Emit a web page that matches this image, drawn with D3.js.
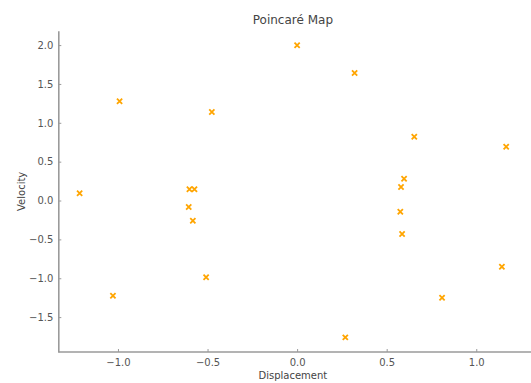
<!DOCTYPE html>
<html>
<head>
<meta charset="utf-8">
<script src="https://cdn.jsdelivr.net/npm/d3@7"></script>
<style>
  html, body { margin: 0; padding: 0; background: #fff; }
  svg { display: block; }
  text { font-family: "DejaVu Sans", sans-serif; }
</style>
</head>
<body>
<svg id="chart" width="531" height="383"></svg>
<script>
const displacement = [-0.991, -0.476, 0.0, 0.321, 0.654, 1.167, -1.214, -0.601, -0.573, -0.605,
                      -0.582, 0.597, 0.580, 0.576, 0.586, -1.028, -0.508, 0.269, 0.809, 1.143];
const velocity     = [1.277, 1.139, 1.997, 1.641, 0.821, 0.692, 0.093, 0.144, 0.144, -0.084,
                      -0.260, 0.281, 0.174, -0.144, -0.431, -1.225, -0.988, -1.761, -1.251, -0.852];
const xTicks = [-1.0, -0.5, 0.0, 0.5, 1.0];
const yTicks = [-1.5, -1.0, -0.5, 0.0, 0.5, 1.0, 1.5, 2.0];

const svg = d3.select("#chart");
const mLeft = 58.3, mRight = 527.5, mTop = 30.7, mBottom = 352;

const x = d3.scaleLinear().domain([-1.333, 1.286]).range([mLeft, mRight]);
const y = d3.scaleLinear().domain([-1.949, 2.185]).range([mBottom, mTop]);

const fmt = v => (v < 0 ? "\u2212" : "") + Math.abs(v).toFixed(1);
const axisColor = "#9a9a9a";
const textColor = "#555";

// x axis
const gx = svg.append("g").attr("transform", `translate(0,${mBottom})`)
  .call(d3.axisBottom(x).tickValues(xTicks).tickFormat(fmt).tickSizeInner(-3).tickSizeOuter(0).tickPadding(7));
gx.select(".domain").attr("stroke", axisColor).attr("stroke-width", 1.6).attr("d", `M${mLeft},0H531`);
gx.selectAll(".tick line").attr("stroke", axisColor).attr("stroke-width", 1);
gx.selectAll(".tick text").attr("fill", textColor).attr("font-size", 10).attr("font-family", "DejaVu Sans");

// y axis
const gy = svg.append("g").attr("transform", `translate(${mLeft},0)`)
  .call(d3.axisLeft(y).tickValues(yTicks).tickFormat(fmt).tickSizeInner(-3).tickSizeOuter(0).tickPadding(5));
gy.select(".domain").attr("stroke", axisColor).attr("stroke-width", 1.6);
gy.selectAll(".tick line").attr("stroke", axisColor).attr("stroke-width", 1);
gy.selectAll(".tick text").attr("fill", textColor).attr("font-size", 10).attr("font-family", "DejaVu Sans");

// points
const pts = displacement.map((d, i) => ({ x: d, y: velocity[i] }));
const s = 2.6;
svg.append("g").selectAll("path").data(pts).join("path")
  .attr("d", d => {
    const cx = x(d.x), cy = y(d.y);
    return `M${cx - s},${cy - s}L${cx + s},${cy + s}M${cx - s},${cy + s}L${cx + s},${cy - s}`;
  })
  .attr("stroke", "#FFA500").attr("stroke-width", 1.8).attr("fill", "none");

// title and labels
svg.append("text").attr("x", (mLeft + mRight) / 2).attr("y", 24).attr("text-anchor", "middle")
  .attr("font-size", 12).attr("fill", "#444").text("Poincaré Map");
svg.append("text").attr("x", (mLeft + mRight) / 2).attr("y", 379).attr("text-anchor", "middle")
  .attr("font-size", 10).attr("fill", "#444").text("Displacement");
svg.append("text").attr("transform", `translate(25,${(mTop + mBottom) / 2}) rotate(-90)`)
  .attr("text-anchor", "middle").attr("font-size", 10).attr("fill", "#444").text("Velocity");
</script>
</body>
</html>
